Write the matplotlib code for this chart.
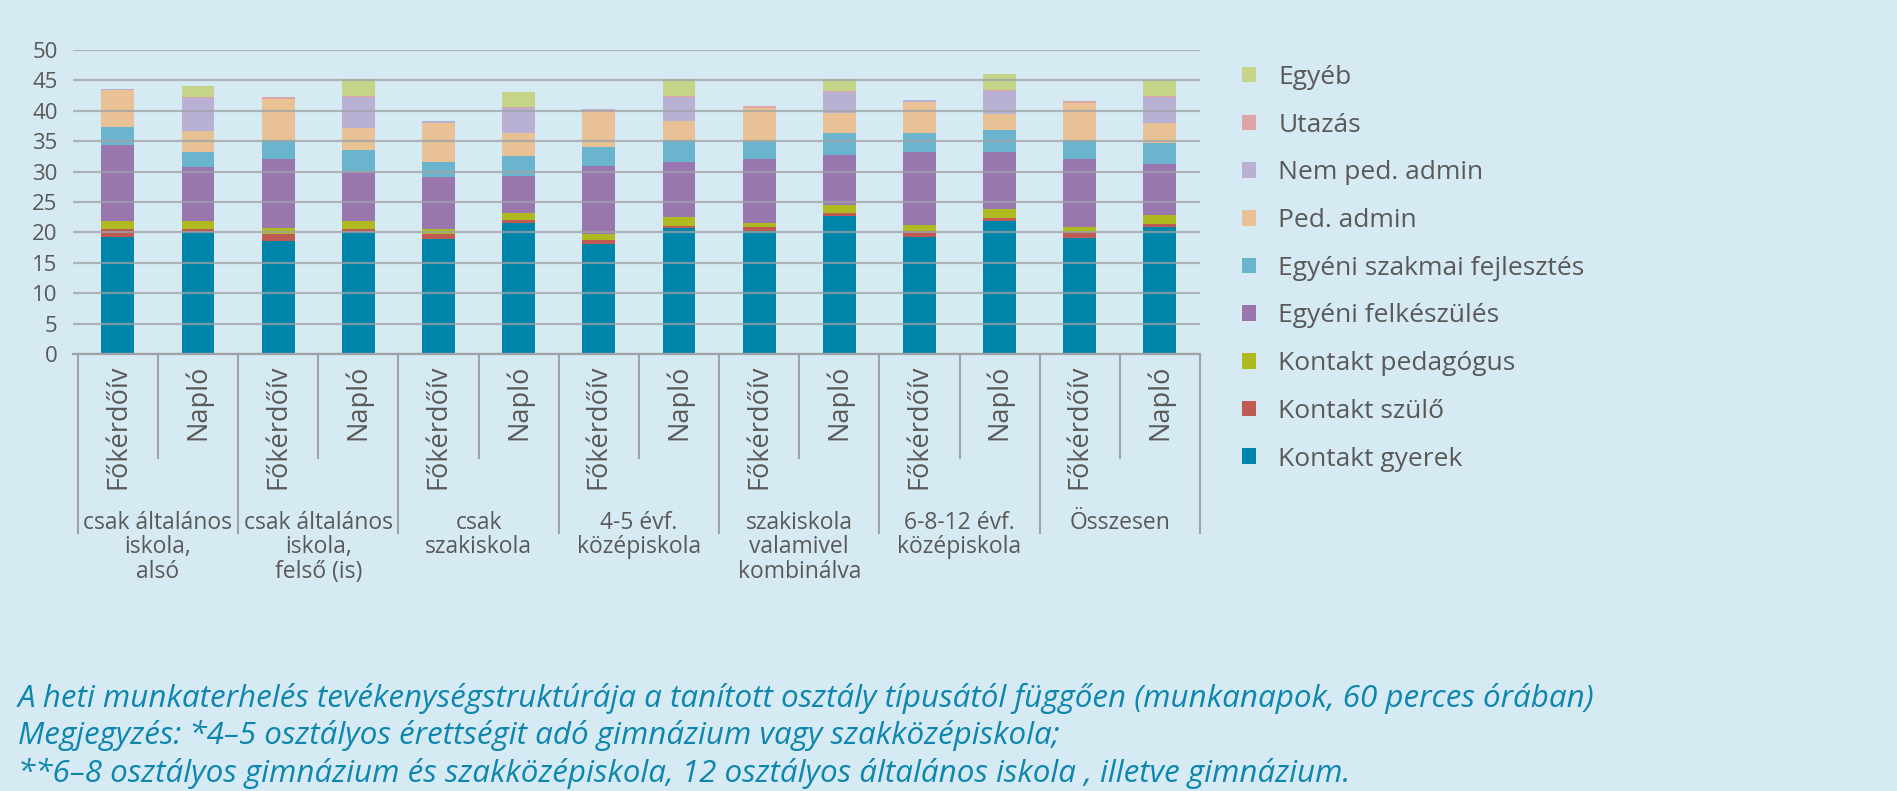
import matplotlib
matplotlib.use("Agg")
import matplotlib.pyplot as plt
from matplotlib.patches import Patch
from matplotlib.transforms import blended_transform_factory

plt.rcParams['font.family'] = ['Open Sans', 'DejaVu Sans']

# adatok (óra / hét), alulról felfelé halmozva
bar_labels = ['Főkérdőív', 'Napló'] * 7
groups = ['csak általános\niskola,\nalsó',
          'csak általános\niskola,\nfelső (is)',
          'csak\nszakiskola',
          '4-5 évf.\nközépiskola',
          'szakiskola\nvalamivel\nkombinálva',
          '6-8-12 évf.\nközépiskola',
          'Összesen']

kontakt_gyerek = [19.3, 20.0, 18.6, 20.0, 18.9, 21.6, 18.1, 20.7, 20.2, 22.75, 19.3, 21.9, 19.0, 20.9]
kontakt_szulo = [1.3, 0.6, 1.1, 0.6, 0.9, 0.4, 0.7, 0.4, 0.7, 0.5, 0.9, 0.4, 1.0, 0.5]
kontakt_pedagogus = [1.3, 1.3, 1.0, 1.3, 0.7, 1.2, 1.0, 1.5, 0.7, 1.3, 1.0, 1.5, 0.9, 1.5]
egyeni_felkeszules = [12.4, 8.9, 11.4, 8.1, 8.6, 6.1, 11.2, 9.0, 10.5, 8.1, 12.1, 9.5, 11.2, 8.35]
egyeni_szakmai = [3.0, 2.5, 3.1, 3.6, 2.5, 3.3, 3.0, 3.6, 2.9, 3.7, 3.0, 3.5, 3.1, 3.45]
ped_admin = [6.1, 3.4, 6.8, 3.5, 6.4, 3.7, 6.1, 3.1, 5.4, 3.3, 5.2, 2.6, 6.1, 3.3]
nem_ped_admin = [0.2, 5.4, 0.0, 5.2, 0.3, 4.2, 0.2, 4.0, 0.0, 3.4, 0.2, 3.8, 0.0, 4.3]
utazas = [0.0, 0.2, 0.3, 0.2, 0.0, 0.1, 0.0, 0.2, 0.4, 0.2, 0.0, 0.2, 0.3, 0.2]
egyeb = [0.0, 1.8, 0.0, 2.7, 0.0, 2.5, 0.0, 2.7, 0.0, 2.0, 0.0, 2.6, 0.0, 2.6]

series = [
    ('Kontakt gyerek', kontakt_gyerek, '#0085AA'),
    ('Kontakt szülő', kontakt_szulo, '#BE5B52'),
    ('Kontakt pedagógus', kontakt_pedagogus, '#AEBA1F'),
    ('Egyéni felkészülés', egyeni_felkeszules, '#9A76AF'),
    ('Egyéni szakmai fejlesztés', egyeni_szakmai, '#6BB4CD'),
    ('Ped. admin', ped_admin, '#E8C195'),
    ('Nem ped. admin', nem_ped_admin, '#B9B1D4'),
    ('Utazás', utazas, '#DEA5A6'),
    ('Egyéb', egyeb, '#C4D58A'),
]

bg = '#D6EAF3'
grid_c = '#9FA3A7'
text_c = '#595959'
caption_c = '#0E86AD'

fig = plt.figure(figsize=(18.97, 7.91), dpi=100, facecolor=bg)
ax = fig.add_axes([73 / 1897, 1 - 354 / 791, 1127 / 1897, 304 / 791])
ax.set_facecolor(bg)

x = list(range(len(bar_labels)))
bottom = [0.0] * len(x)
handles = []
for name, vals, col in series:
    ax.bar(x, vals, width=0.41, bottom=bottom, color=col, edgecolor='none', zorder=1)
    bottom = [b + v for b, v in zip(bottom, vals)]
    handles.append(Patch(facecolor=col, label=name))

ax.set_xlim(-0.56, 13.5)
ax.set_ylim(0, 50)
ax.set_yticks(range(0, 51, 5))
ax.yaxis.grid(True, color=grid_c, linewidth=1.6, alpha=0.75, zorder=3)
ax.set_axisbelow(False)
ax.tick_params(axis='y', length=0, pad=11, labelsize=16, labelcolor=text_c)

ax.set_xticks(x)
ax.set_xticklabels(bar_labels, rotation=90, fontsize=19.5, color=text_c)
ax.tick_params(axis='x', length=0, pad=8)

for s in ['top', 'right', 'left']:
    ax.spines[s].set_visible(False)
ax.spines['bottom'].set_color(grid_c)
ax.spines['bottom'].set_linewidth(1.6)

# kategória-elválasztó vonalak az x tengely alatt
trans = blended_transform_factory(ax.transData, ax.transAxes)
for i in range(len(x) + 1):
    depth = -0.589 if i % 2 == 0 else -0.342
    ax.plot([i - 0.5, i - 0.5], [0, depth], transform=trans, color=grid_c,
            linewidth=1.5, clip_on=False)

for g, label in enumerate(groups):
    ax.text(2 * g + 0.5, -0.515, label, transform=trans, ha='center', va='top',
            fontsize=16.5, color=text_c, linespacing=1.05)

ax.legend(handles=handles[::-1], loc='upper left', bbox_to_anchor=(1242 / 1897, 1 - 65 / 791),
          bbox_transform=fig.transFigure, frameon=False, fontsize=19,
          handlelength=0.53, handleheight=0.53, handletextpad=0.85,
          labelspacing=0.86, borderpad=0, borderaxespad=0, labelcolor=text_c)

captions = ['A heti munkaterhelés tevékenységstruktúrája a tanított osztály típusától függően (munkanapok, 60 perces órában)',
            'Megjegyzés: *4–5 osztályos érettségit adó gimnázium vagy szakközépiskola;',
            '**6–8 osztályos gimnázium és szakközépiskola, 12 osztályos általános iskola , illetve gimnázium.']
for k, line in enumerate(captions):
    fig.text(18 / 1897, 1 - (698 + 37.5 * k) / 791, line, ha='left', va='center',
             fontsize=22.6, style='italic', color=caption_c)

fig.savefig('out.png', dpi=100, facecolor=bg)
